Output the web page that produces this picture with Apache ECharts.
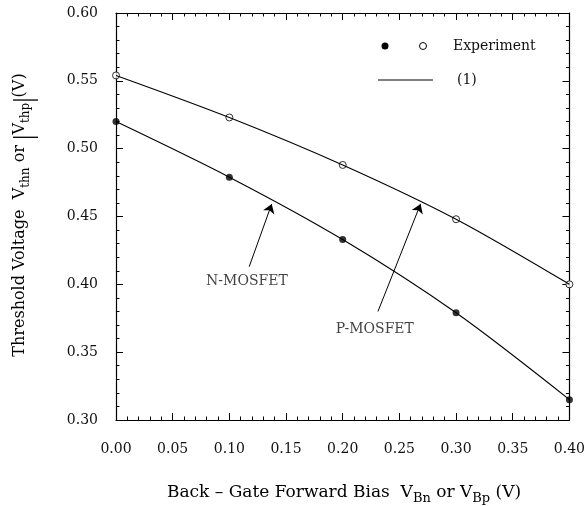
<!DOCTYPE html>
<html>
<head>
<meta charset="utf-8">
<script src="https://cdn.jsdelivr.net/npm/echarts@6/dist/echarts.min.js"></script>
<style>
  html, body { margin: 0; padding: 0; background: #fff; }
  #chart { width: 588px; height: 506px; }
</style>
</head>
<body>
<div id="chart"></div>
<script>
// bias voltage (V)
const biasV = [0, 0.1, 0.2, 0.3, 0.4];
// measured threshold voltages
const vthN = [0.520, 0.479, 0.433, 0.379, 0.315];
const vthP = [0.554, 0.523, 0.488, 0.448, 0.400];
// annotation labels and arrows (data coords)
const noteText = ["N-MOSFET", "P-MOSFET"];
const notePos = [[0.1155, 0.402], [0.2284, 0.367]];
const arrowFrom = [[0.1175, 0.413], [0.2311, 0.380]];
const arrowTo = [[0.1374, 0.4593], [0.2687, 0.4593]];

const font = "DejaVu Serif";
const ink = "#111";

const chart = echarts.init(document.getElementById("chart"));

// common axis look: box frame, inward ticks
function axisStyle(showLabel) {
  return {
    axisLine: { show: true, onZero: false, lineStyle: { color: "#000", width: 1.2 } },
    axisTick: { show: true, inside: true, length: 7, lineStyle: { color: "#000", width: 1 } },
    minorTick: { show: true, splitNumber: 5, length: 3.5, lineStyle: { color: "#000", width: 1 } },
    splitLine: { show: false },
    minorSplitLine: { show: false },
    axisLabel: {
      show: showLabel,
      formatter: (v) => v.toFixed(2),
      fontFamily: font,
      fontSize: 14,
      color: ink,
    },
  };
}

const xBottom = Object.assign({ type: "value", min: 0, max: 0.4, interval: 0.05, position: "bottom" }, axisStyle(true));
xBottom.axisLabel.margin = 22;
const xTop = Object.assign({ type: "value", min: 0, max: 0.4, interval: 0.05, position: "top" }, axisStyle(false));
const yLeft = Object.assign({ type: "value", min: 0.3, max: 0.6, interval: 0.05, position: "left" }, axisStyle(true));
yLeft.axisLabel.margin = 18;
const yRight = Object.assign({ type: "value", min: 0.3, max: 0.6, interval: 0.05, position: "right" }, axisStyle(false));

// rich text for titles: subscripts pushed down with top padding
function titleRich(size) {
  return {
    n: { fontFamily: font, fontSize: size, verticalAlign: "top", color: ink },
    s: { fontFamily: font, fontSize: size - 4, padding: [8, 0, 0, 0], verticalAlign: "top", color: ink },
    b: { fontFamily: "Liberation Serif", fontSize: 27, verticalAlign: "top", color: ink },
  };
}

const option = {
  animation: false,
  backgroundColor: "#fff",
  grid: { left: 116, right: 15, top: 13, bottom: 86 },
  xAxis: [xBottom, xTop],
  yAxis: [yLeft, yRight],
  series: [
    {
      name: "model N",
      type: "line",
      data: biasV.map((x, i) => [x, vthN[i]]),
      smooth: 0.3,
      showSymbol: false,
      lineStyle: { color: "#000", width: 1.1 },
      silent: true,
    },
    {
      name: "model P",
      type: "line",
      data: biasV.map((x, i) => [x, vthP[i]]),
      smooth: 0.3,
      showSymbol: false,
      lineStyle: { color: "#000", width: 1.1 },
      silent: true,
    },
    {
      name: "exp N",
      type: "scatter",
      data: biasV.map((x, i) => [x, vthN[i]]),
      symbol: "circle",
      symbolSize: 7,
      itemStyle: { color: "#000" },
    },
    {
      name: "exp P",
      type: "scatter",
      data: biasV.map((x, i) => [x, vthP[i]]),
      symbol: "circle",
      symbolSize: 7,
      itemStyle: { color: "#fff", borderColor: "#000", borderWidth: 1 },
    },
    {
      // device labels with arrows pointing to the curves
      name: "notes",
      type: "scatter",
      data: notePos.map((p, i) => ({ value: p, name: noteText[i] })),
      symbolSize: 0,
      silent: true,
      label: {
        show: true,
        position: "inside",
        formatter: (p) => p.name,
        fontFamily: font,
        fontSize: 14,
        color: ink,
      },
      markLine: {
        silent: true,
        symbol: ["none", "arrow"],
        symbolSize: 9,
        label: { show: false },
        lineStyle: { color: "#000", width: 1, type: "solid" },
        data: arrowFrom.map((p, i) => [{ coord: p }, { coord: arrowTo[i] }]),
      },
    },
  ],
  graphic: [
    // legend
    { type: "circle", shape: { cx: 385, cy: 46, r: 3.5 }, style: { fill: "#000" } },
    { type: "circle", shape: { cx: 423, cy: 46, r: 3.5 }, style: { fill: "#fff", stroke: "#000", lineWidth: 1 } },
    { type: "text", x: 453, y: 46, style: { text: "Experiment", font: "14px " + font, fill: ink, verticalAlign: "middle" } },
    { type: "line", shape: { x1: 378, y1: 80, x2: 433, y2: 80 }, style: { stroke: "#000", lineWidth: 1.1 } },
    { type: "text", x: 457, y: 80, style: { text: "(1)", font: "14px " + font, fill: ink, verticalAlign: "middle" } },
    // axis titles
    {
      type: "text",
      x: 344,
      y: 495,
      style: {
        text: "{n|Back – Gate Forward Bias  V}{s|Bn}{n| or V}{s|Bp}{n| (V)}",
        rich: titleRich(17),
        align: "center",
        verticalAlign: "middle",
      },
    },
    {
      type: "text",
      x: 25,
      y: 215,
      rotation: Math.PI / 2,
      style: {
        text: "{n|Threshold Voltage  V}{s|thn}{n| or }{b||}{n|V}{s|thp}{b||}{n|(V)}",
        rich: titleRich(16),
        align: "center",
        verticalAlign: "middle",
      },
    },
  ],
};

chart.setOption(option);
window.addEventListener("resize", function () {
  chart.resize();
});
</script>
</body>
</html>
